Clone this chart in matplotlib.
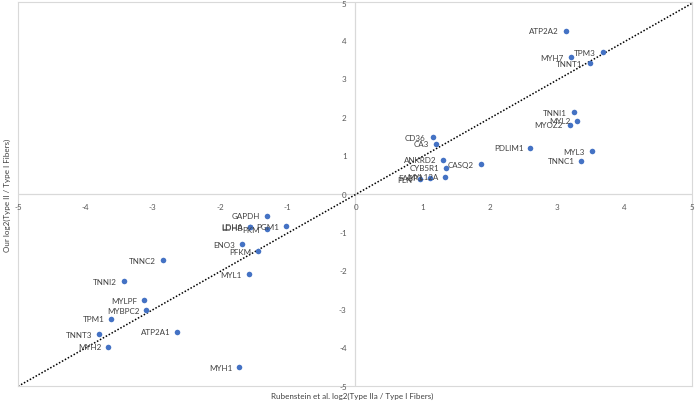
import numpy as np
import matplotlib
matplotlib.use("Agg")
import matplotlib.pyplot as plt

# gene names and log2 ratios (Rubenstein vs ours)
genes = ["ATP2A2", "TPM3", "MYH7", "TNNT1", "TNNI1", "MYL2", "MYOZ2", "PDLIM1",
         "MYL3", "TNNC1", "CASQ2", "CD36", "CA3", "ANKRD2", "CYB5R1", "MYL12A",
         "FABP3", "PLN", "GAPDH", "LDHA", "LDHB", "PKM", "PGM1", "ENO3", "PFKM",
         "MYL1", "TNNC2", "TNNI2", "MYLPF", "MYBPC2", "TPM1", "ATP2A1", "TNNT3",
         "MYH2", "MYH1"]
rubenstein = [3.13, 3.68, 3.20, 3.48, 3.25, 3.30, 3.19, 2.60,
              3.51, 3.36, 1.87, 1.15, 1.20, 1.31, 1.35, 1.34,
              1.11, 0.96, -1.31, -1.56, -1.56, -1.31, -1.03, -1.67, -1.44,
              -1.58, -2.85, -3.43, -3.13, -3.10, -3.62, -2.64, -3.80,
              -3.66, -1.72]
ours = [4.25, 3.69, 3.56, 3.41, 2.13, 1.91, 1.80, 1.21,
        1.11, 0.87, 0.77, 1.48, 1.31, 0.89, 0.68, 0.45,
        0.42, 0.38, -0.57, -0.85, -0.86, -0.92, -0.84, -1.31, -1.49,
        -2.09, -1.72, -2.27, -2.77, -3.02, -3.25, -3.59, -3.65,
        -3.98, -4.51]

# trendline as shown on the chart (slope, intercept)
trend = [0.997, -0.02]

ticks = [-5, -4, -3, -2, -1, 0, 1, 2, 3, 4, 5]

plt.rcParams["font.family"] = ["Lato", "DejaVu Sans"]

fig = plt.figure(figsize=(6.95, 4.02), dpi=100)
ax = fig.add_axes([0.026, 0.037, 0.9696, 0.9555])

ax.set_xlim(-5, 5)
ax.set_ylim(-5, 5)

# frame
for s in ax.spines.values():
    s.set_color("#d9d9d9")
    s.set_linewidth(0.8)

# axes through the origin
ax.axhline(0, color="#d9d9d9", lw=0.9, zorder=1)
ax.axvline(0, color="#d9d9d9", lw=0.9, zorder=1)

# dotted trendline over full axis
xs = np.array([-5, 5])
ax.plot(xs, np.polyval(trend, xs), color="black", lw=1.1, ls=(0, (1, 1.2)), zorder=2)

ax.scatter(rubenstein, ours, s=16, color="#4472c4", zorder=3, linewidths=0)

for g, x, y in zip(genes, rubenstein, ours):
    ax.annotate(g, (x, y), xytext=(-5, 0), textcoords="offset points",
                ha="right", va="center", fontsize=5.8, color="#404040", zorder=4)

# tick labels placed next to the center axes
ax.set_xticks([])
ax.set_yticks([])
for t in ticks:
    ax.annotate(str(t), (t, 0), xytext=(1 if t == 0 else 0, -9), textcoords="offset points",
                ha="center", va="center", fontsize=5.8, color="#595959")
    ax.annotate(str(t), (0, t), xytext=(-6, 0 if t != 5 else -1), textcoords="offset points",
                ha="right", va="center", fontsize=5.8, color="#595959")

fig.text(0.507, 0.014, "Rubenstein et al. log2(Type IIa / Type I Fibers)",
         ha="center", va="center", fontsize=5.8, color="#404040")
fig.text(0.011, 0.515, "Our log2(Type II / Type I Fibers)", rotation=90,
         ha="center", va="center", fontsize=5.8, color="#404040")

fig.savefig("out.png", dpi=100)
